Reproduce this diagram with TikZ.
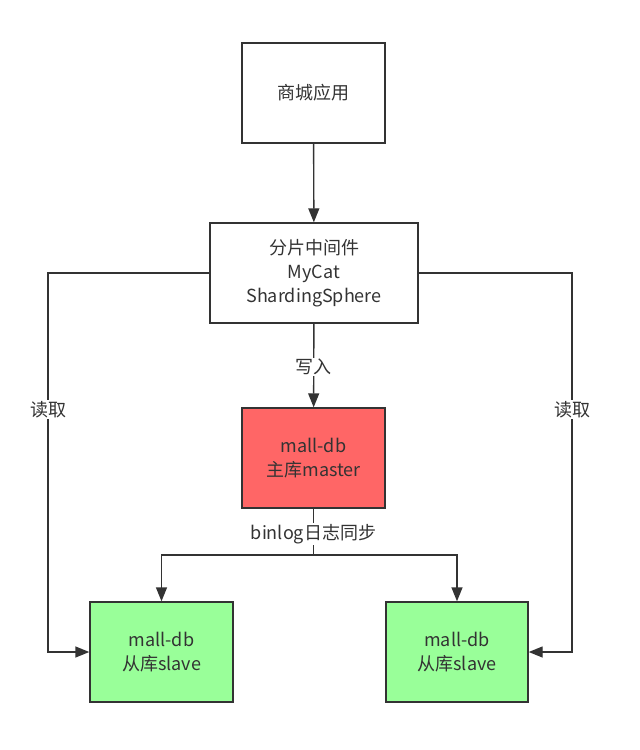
\documentclass[tikz,border=0pt]{standalone}
\usepackage{fontspec}
\setmainfont{Noto Sans CJK SC}
\usetikzlibrary{arrows.meta}
\definecolor{linegray}{HTML}{333333}
\definecolor{masterred}{HTML}{FF6666}
\definecolor{slavegreen}{HTML}{99FF99}
\tikzset{
  box/.style={draw=linegray, line width=1.4pt, minimum width=143pt, minimum height=100pt,
    align=center, font=\fontsize{18}{24}\selectfont, text=linegray, inner sep=0pt},
  link/.style={draw=linegray, line width=1.4pt, -{Triangle[length=14pt,width=11pt]}},
  lbl/.style={fill=white, text=linegray, font=\fontsize{18}{24}\selectfont, inner sep=1pt}
}
\begin{document}
\begin{tikzpicture}[x=1pt,y=-1pt]
            \useasboundingbox (0,0) rectangle (640,750);
            \node[box] (app) at (313.5,93) {商城应用};
            \node[box, minimum width=208pt] (mid) at (314,273) {分片中间件\\MyCat\\ShardingSphere};
            \node[box, fill=masterred] (master) at (313.5,458) {mall-db\\主库master};
            \node[box, fill=slavegreen] (slaveL) at (161.5,652) {mall-db\\从库slave};
            \node[box, fill=slavegreen, minimum width=142pt] (slaveR) at (457,652) {mall-db\\从库slave};
            \coordinate (sync) at (313.5,555);
            \coordinate (syncL) at (161.5,555);
            \coordinate (syncR) at (457,555);
            \coordinate (readL) at (48,273);
            \coordinate (readR) at (572,273);
            \draw[link] (app) -- (mid);
            \draw[link] (mid) -- node[lbl, pos=0.52] {写入} (master);
            \draw[draw=linegray, line width=1.4pt] (master) -- node[lbl, pos=0.55] {binlog日志同步} (sync);
            \draw[link] (sync) -- (syncL) -- (slaveL);
            \draw[link] (sync) -- (syncR) -- (slaveR);
            \draw[link] (mid.west) -- (readL) -- node[lbl, pos=0.36] {读取} (readL |- slaveL) -- (slaveL);
            \draw[link] (mid.east) -- (readR) -- node[lbl, pos=0.36] {读取} (readR |- slaveR) -- (slaveR);
        \end{tikzpicture}
\end{document}
